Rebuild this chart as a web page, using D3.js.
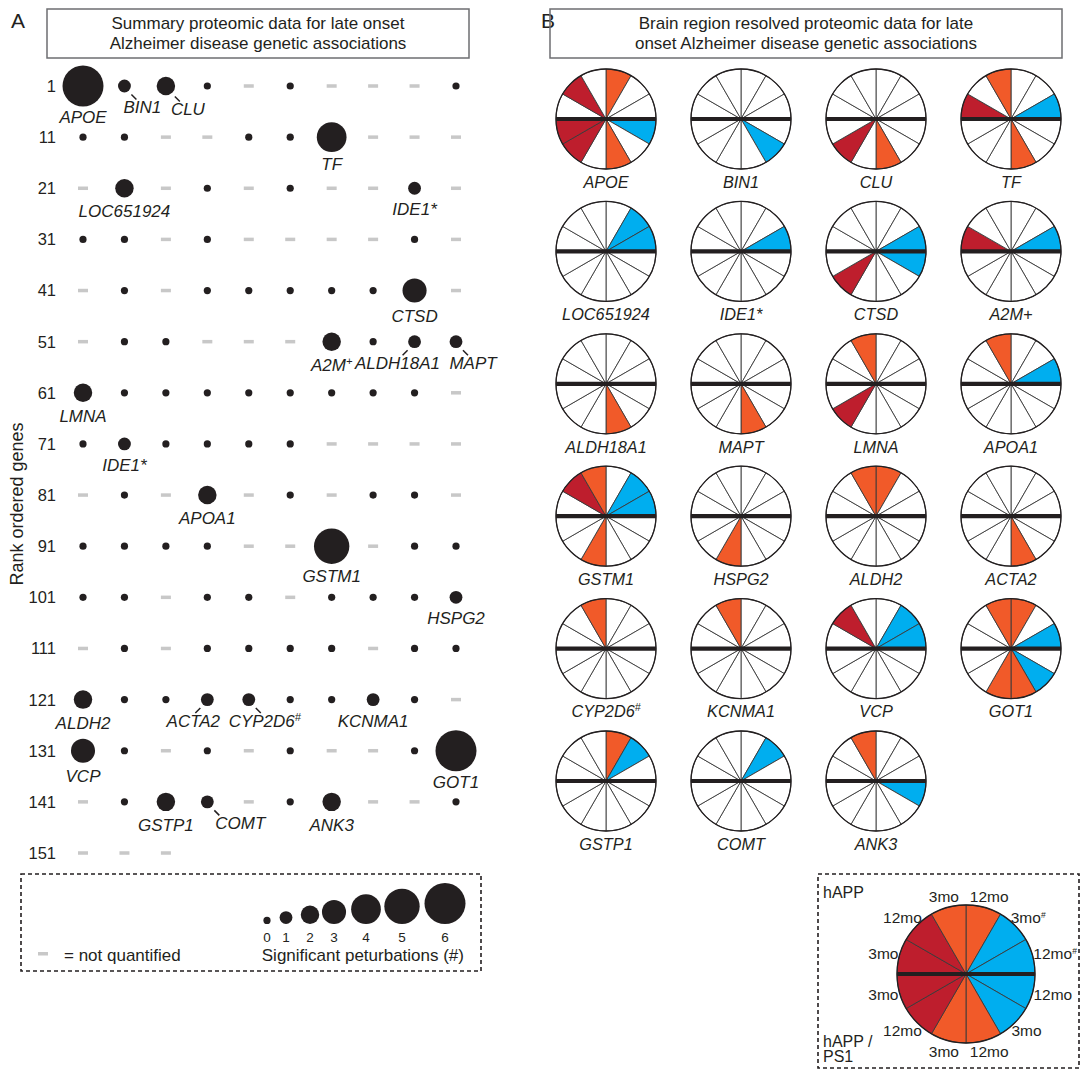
<!DOCTYPE html>
<html>
<head>
<meta charset="utf-8">
<script src="https://cdn.jsdelivr.net/npm/d3@7"></script>
<style>
  body { margin: 0; background: #fff; }
  text { font-family: "Liberation Sans", Arial, Helvetica, sans-serif; fill: #231f20; }
</style>
</head>
<body>
<svg id="fig" width="1081" height="1070"></svg>
<script>
// ---------- Panel A data: significant perturbations per rank-ordered gene ----------
// Ten genes per row; null marks a gene that was not quantified.
const rowStartRanks = [1, 11, 21, 31, 41, 51, 61, 71, 81, 91, 101, 111, 121, 131, 141, 151];
const perturbationRows = [
  [6, 1, 2, 0, null, 0, null, null, null, 0],
  [0, 0, null, null, 0, 0, 4, null, null, null],
  [null, 2, null, 0, null, 0, null, null, 1, null],
  [0, 0, null, 0, null, null, null, null, 0, null],
  [null, 0, null, 0, 0, 0, 0, 0, 3, null],
  [null, 0, 0, null, null, null, 2, 0, 1, 1],
  [2, 0, 0, 0, 0, 0, 0, 0, 0, null],
  [0, 1, 0, 0, 0, 0, null, null, null, null],
  [null, 0, null, 2, null, 0, null, 0, 0, null],
  [0, 0, 0, 0, null, null, 5, null, 0, 0],
  [0, 0, null, 0, 0, null, 0, 0, 0, 1],
  [null, 0, null, 0, 0, 0, 0, null, 0, 0],
  [2, 0, 0, 1, 1, 0, 0, 1, 0, null],
  [3, 0, null, 0, null, 0, null, null, 0, 6],
  [null, 0, 2, 1, null, 0, 2, null, null, 0],
  [null, null, null]
];
// Named genes and their rank ("^" starts a superscript)
const namedGenes = ["APOE", "BIN1", "CLU", "TF", "LOC651924", "IDE1*", "CTSD", "A2M^+", "ALDH18A1", "MAPT",
  "LMNA", "IDE1*", "APOA1", "GSTM1", "HSPG2", "ALDH2", "ACTA2", "CYP2D6^#", "KCNMA1", "VCP", "GOT1",
  "GSTP1", "COMT", "ANK3"];
const namedRanks = [1, 2, 3, 17, 22, 29, 49, 57, 59, 60, 61, 72, 84, 97, 110, 121, 124, 125, 128, 131, 140,
  143, 144, 147];
const legendCounts = [0, 1, 2, 3, 4, 5, 6];

// ---------- Panel B data: significant sectors (0-11, clockwise from 12 o'clock) ----------
const pieGenes = ["APOE", "BIN1", "CLU", "TF", "LOC651924", "IDE1*", "CTSD", "A2M+", "ALDH18A1", "MAPT",
  "LMNA", "APOA1", "GSTM1", "HSPG2", "ALDH2", "ACTA2", "CYP2D6^#", "KCNMA1", "VCP", "GOT1", "GSTP1",
  "COMT", "ANK3"];
const pieSignificant = [
  [0, 3, 5, 7, 8, 10], [4], [5, 7], [2, 5, 9, 11],
  [1, 2], [2], [2, 3, 7], [2, 9],
  [5], [5], [7, 11], [2, 11],
  [1, 2, 6, 10, 11], [6], [0, 11], [5],
  [11], [11], [1, 2, 10], [0, 2, 4, 5, 6, 11],
  [0, 1], [1], [3, 11]
];
// Sector groups and time-point labels of the key pie
const sectorGroups = ["orange", "blue", "blue", "blue", "blue", "orange", "orange", "red", "red", "red", "red", "orange"];
const sectorLabels = ["12mo", "3mo^#", "12mo^#", "12mo", "3mo", "12mo", "3mo", "12mo", "3mo", "3mo", "12mo", "3mo"];

// ---------- drawing ----------
const svg = d3.select("#fig");
const INK = "#231f20";
const groupColor = d3.scaleOrdinal()
  .domain(["orange", "blue", "red"])
  .range(["#f15a29", "#00aeef", "#be1e2d"]);

// write text with an optional "^" superscript part
function richText(sel, str, supScale) {
  const parts = str.split("^");
  sel.append("tspan").text(parts[0]);
  if (parts.length > 1) {
    sel.append("tspan")
      .attr("baseline-shift", "super")
      .attr("font-size", supScale)
      .text(parts[1]);
  }
}

function titleBox(x0, x1, lines) {
  svg.append("rect").attr("x", x0).attr("y", 9).attr("width", x1 - x0).attr("height", 49)
    .attr("fill", "none").attr("stroke", "#6d6e71").attr("stroke-width", 1.5);
  lines.forEach((l, i) => {
    svg.append("text").attr("x", (x0 + x1) / 2).attr("y", 29 + i * 20)
      .attr("text-anchor", "middle").attr("font-size", 17).text(l);
  });
}

// ===== Panel A =====
svg.append("text").attr("x", 11).attr("y", 28).attr("font-size", 21).text("A");
titleBox(47, 469, ["Summary proteomic data for late onset", "Alzheimer disease genetic associations"]);

const xCol = d3.scaleLinear().domain([0, 9]).range([83, 456]);
const yRow = d3.scaleLinear().domain([0, 15]).range([86, 853]);
const rScale = d3.scaleLinear().domain([0, 6]).range([3.6, 20.5]);

svg.append("text")
  .attr("transform", `translate(23,504) rotate(-90)`)
  .attr("text-anchor", "middle").attr("font-size", 18).text("Rank ordered genes");

svg.append("g").selectAll("text").data(rowStartRanks).join("text")
  .attr("x", 56).attr("y", (d, i) => yRow(i)).attr("dy", "0.36em")
  .attr("text-anchor", "end").attr("font-size", 16.5).text(d => d);

const cells = [];
perturbationRows.forEach((row, ri) => row.forEach((v, ci) => {
  cells.push({ rank: rowStartRanks[ri] + ci, row: ri, col: ci, v });
}));
const cellByRank = new Map(cells.map(c => [c.rank, c]));

const gA = svg.append("g");
gA.selectAll("rect.nq").data(cells.filter(c => c.v === null)).join("rect")
  .attr("class", "nq")
  .attr("x", c => xCol(c.col) - 5).attr("y", c => yRow(c.row) - 1.75)
  .attr("width", 10).attr("height", 3.5).attr("fill", "#c8c8c8");
gA.selectAll("circle").data(cells.filter(c => c.v !== null)).join("circle")
  .attr("cx", c => xCol(c.col)).attr("cy", c => yRow(c.row))
  .attr("r", c => rScale(c.v)).attr("fill", INK);

// label offsets for names that sit beside their dot with a short leader line
const labelShift = { "BIN1": 18, "CLU": 22, "ALDH18A1": -17, "MAPT": 17, "ACTA2": -14, "CYP2D6^#": 16, "COMT": 33 };

namedGenes.forEach((g, i) => {
  const c = cellByRank.get(namedRanks[i]);
  const cx = xCol(c.col), cy = yRow(c.row), r = rScale(c.v);
  const shift = labelShift[g] || 0;
  const ly = cy + 16 + 0.75 * r;
  const t = svg.append("text").attr("x", cx + shift).attr("y", ly).attr("dy", "0.36em")
    .attr("text-anchor", "middle").attr("font-size", 17).attr("font-style", "italic");
  richText(t, g, "65%");
  if (shift !== 0) {
    const s = Math.sign(shift);
    const x1 = cx + s * (r * 0.7 + 2.5), y1 = cy + r * 0.7 + 4;
    svg.append("line").attr("x1", x1).attr("y1", y1).attr("x2", x1 + s * 5).attr("y2", y1 + 5)
      .attr("stroke", INK).attr("stroke-width", 1.5);
  }
});

// size key for panel A
svg.append("rect").attr("x", 21).attr("y", 874).attr("width", 460).attr("height", 97)
  .attr("fill", "none").attr("stroke", INK).attr("stroke-width", 1.6).attr("stroke-dasharray", "4,3");
const legX = d3.scaleOrdinal().domain(legendCounts).range([267, 286, 310, 334, 366, 402, 445]);
svg.append("g").selectAll("circle").data(legendCounts).join("circle")
  .attr("cx", d => legX(d)).attr("cy", d => 924 - rScale(d)).attr("r", d => rScale(d)).attr("fill", INK);
svg.append("g").selectAll("text").data(legendCounts).join("text")
  .attr("x", d => legX(d)).attr("y", 942).attr("text-anchor", "middle").attr("font-size", 13.5).text(d => d);
svg.append("text").attr("x", 464).attr("y", 961).attr("text-anchor", "end").attr("font-size", 17)
  .text("Significant peturbations (#)");
svg.append("rect").attr("x", 38).attr("y", 952).attr("width", 10).attr("height", 3.5).attr("fill", "#c8c8c8");
svg.append("text").attr("x", 64).attr("y", 961).attr("font-size", 17).text("= not quantified");

// ===== Panel B =====
svg.append("text").attr("x", 541).attr("y", 28).attr("font-size", 21).text("B");
titleBox(550, 1062, ["Brain region resolved proteomic data for late", "onset Alzheimer disease genetic associations"]);

const sectors = d3.pie().sort(null).value(1)(d3.range(12));
const pieX = d3.scaleLinear().domain([0, 3]).range([606, 1011]);
const pieY = d3.scaleLinear().domain([0, 5]).range([119, 781]);

function drawPie(g, R, fillFor) {
  const arc = d3.arc().innerRadius(0).outerRadius(R);
  g.selectAll("path").data(sectors).join("path")
    .attr("d", arc).attr("fill", d => fillFor(d.index))
    .attr("stroke", "#3a3a3a").attr("stroke-width", 0.9).attr("stroke-linejoin", "round");
  g.append("circle").attr("r", R).attr("fill", "none").attr("stroke", INK).attr("stroke-width", 1.3);
  g.append("line").attr("x1", -R).attr("x2", R).attr("y1", 0).attr("y2", 0)
    .attr("stroke", INK).attr("stroke-width", 4.2);
}

pieGenes.forEach((gname, i) => {
  const col = i % 4, row = Math.floor(i / 4);
  const g = svg.append("g").attr("transform", `translate(${pieX(col)},${pieY(row)})`);
  const sig = new Set(pieSignificant[i]);
  drawPie(g, 50, k => sig.has(k) ? groupColor(sectorGroups[k]) : "#fff");
  const t = g.append("text").attr("y", 63).attr("dy", "0.36em").attr("text-anchor", "middle")
    .attr("font-size", 16.3).attr("font-style", "italic");
  richText(t, gname, "65%");
});

// key pie
svg.append("rect").attr("x", 818).attr("y", 874).attr("width", 261).attr("height", 194)
  .attr("fill", "none").attr("stroke", INK).attr("stroke-width", 1.6).attr("stroke-dasharray", "4,3");
const keyR = 69, keyCx = 966, keyCy = 974;
const gk = svg.append("g").attr("transform", `translate(${keyCx},${keyCy})`);
drawPie(gk, keyR, k => groupColor(sectorGroups[k]));
sectors.forEach(d => {
  const a = (d.startAngle + d.endAngle) / 2;
  const sx = Math.sin(a), sy = -Math.cos(a);
  const t = gk.append("text").attr("font-size", 15.5).attr("text-anchor", "middle").attr("dy", "0.36em");
  richText(t, sectorLabels[d.index], "55%");
  const w = t.node().getComputedTextLength();
  const R = keyR + 1;
  t.attr("x", R * sx + (w / 2 + 0.5) * sx).attr("y", (R + 3) * sy + 7 * sy);
});
svg.append("text").attr("x", 823).attr("y", 898).attr("font-size", 16).text("hAPP");
svg.append("text").attr("x", 823).attr("y", 1047).attr("font-size", 16).text("hAPP /");
svg.append("text").attr("x", 823).attr("y", 1062).attr("font-size", 16).text("PS1");
</script>
</body>
</html>
